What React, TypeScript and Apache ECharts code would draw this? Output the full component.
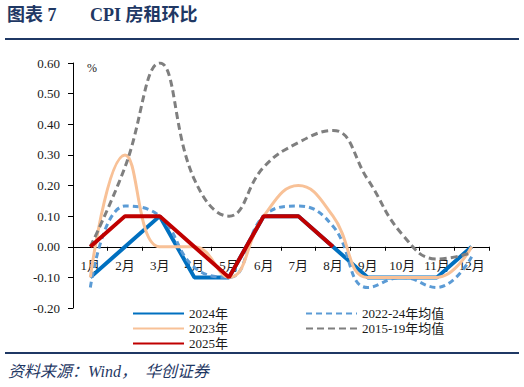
import React, { useEffect, useRef } from "react";
import * as echarts from "echarts";

const months = ["1月", "2月", "3月", "4月", "5月", "6月", "7月", "8月", "9月", "10月", "11月", "12月"];
const y2024 = [-0.1, 0.0, 0.1, -0.1, -0.1, 0.1, 0.1, 0.0, -0.1, -0.1, -0.1, 0.0];
const avg2224 = [-0.133, 0.133, 0.1, -0.067, -0.1, 0.1, 0.133, 0.067, -0.133, -0.1, -0.133, -0.033];
const y2023 = [-0.1, 0.3, 0.0, 0.0, -0.1, 0.1, 0.2, 0.1, -0.1, -0.1, -0.1, 0.0];
const avg1519 = [0.0, 0.26, 0.6, 0.22, 0.1, 0.26, 0.34, 0.38, 0.22, 0.04, -0.04, -0.02];
const y2025 = [0.0, 0.1, 0.1, 0.0, -0.1, 0.1, 0.1, 0.0];

const serif = '"Liberation Serif", "Times New Roman", "Noto Sans CJK SC", serif';
const navy = "#1F3864";

const yMin = -0.2;
const yMax = 0.6;
const gridTop = 63;
const gridBottom = 79;
const gridHeight = 387 - gridTop - gridBottom;

export default function App() {
  const ref = useRef<HTMLDivElement>(null);
  useEffect(() => {
    const chart = echarts.init(ref.current!, null, { renderer: "svg" });
    const textStyle = { fontFamily: serif, fontSize: 13, color: "#1a1a1a" };
    const zeroOffset = -(gridHeight * (0 - yMin)) / (yMax - yMin);
    const legendCommon = {
      top: 307,
      orient: "vertical",
      itemWidth: 51,
      itemHeight: 8,
      itemGap: 2,
      padding: 0,
      itemStyle: { opacity: 0 },
      textStyle: { ...textStyle, lineHeight: 12 },
    };
    chart.setOption({
      animation: false,
      backgroundColor: "#ffffff",
      grid: { left: 73, right: 35, top: gridTop, bottom: gridBottom },
      xAxis: {
        type: "category",
        data: months,
        boundaryGap: true,
        position: "bottom",
        offset: zeroOffset,
        axisLine: { onZero: false, lineStyle: { color: "#000", width: 1 } },
        axisTick: { show: true, length: 4, lineStyle: { color: "#000" } },
        axisLabel: { ...textStyle, margin: 12, interval: 0 },
        splitLine: { show: false },
      },
      yAxis: {
        type: "value",
        min: yMin,
        max: yMax,
        interval: 0.1,
        axisLine: { show: true, lineStyle: { color: "#000", width: 1 } },
        axisTick: { show: true, length: 5, lineStyle: { color: "#000" } },
        axisLabel: { ...textStyle, margin: 13, formatter: (v: number) => v.toFixed(2) },
        splitLine: { show: false },
      },
      legend: [
        { ...legendCommon, left: 132, data: ["2024年", "2023年", "2025年"] },
        { ...legendCommon, left: 305, data: ["2022-24年均值", "2015-19年均值"] },
      ],
      series: [
        {
          name: "2024年",
          type: "line",
          data: y2024,
          symbol: "none",
          color: "#0070C0",
          lineStyle: { color: "#0070C0", width: 4 },
        },
        {
          name: "2022-24年均值",
          type: "line",
          data: avg2224,
          symbol: "none",
          smooth: 0.45,
          color: "#5B9BD5",
          lineStyle: { color: "#5B9BD5", width: 3, type: [6, 4] },
        },
        {
          name: "2023年",
          type: "line",
          data: y2023,
          symbol: "none",
          smooth: 0.45,
          color: "#F8C197",
          lineStyle: { color: "#F8C197", width: 3 },
        },
        {
          name: "2015-19年均值",
          type: "line",
          data: avg1519,
          symbol: "none",
          smooth: 0.45,
          color: "#7F7F7F",
          lineStyle: { color: "#7F7F7F", width: 3, type: [7, 4] },
        },
        {
          name: "2025年",
          type: "line",
          data: y2025,
          symbol: "none",
          color: "#C00000",
          lineStyle: { color: "#C00000", width: 4 },
        },
      ],
      graphic: [
        {
          type: "text",
          left: 7,
          top: 6,
          style: { text: "图表 7", fontFamily: serif, fontSize: 18, fontWeight: "bold", fill: navy },
        },
        {
          type: "text",
          left: 90,
          top: 6,
          style: { text: "CPI 房租环比", fontFamily: serif, fontSize: 18, fontWeight: "bold", fill: navy },
        },
        {
          type: "rect",
          shape: { x: 5, y: 38, width: 514, height: 2 },
          style: { fill: navy },
        },
        {
          type: "rect",
          shape: { x: 5, y: 352, width: 514, height: 2 },
          style: { fill: navy },
        },
        {
          type: "text",
          left: 8,
          top: 363,
          style: {
            text: "资料来源：Wind，  华创证券",
            fontFamily: serif,
            fontSize: 16,
            fontStyle: "italic",
            fill: navy,
          },
        },
        {
          type: "text",
          left: 87,
          top: 62,
          style: { text: "%", fontFamily: serif, fontSize: 12, fill: "#1a1a1a" },
        },
      ],
    });
    return () => chart.dispose();
  }, []);
  return (
    <div
      ref={ref}
      style={{ position: "fixed", left: 0, top: 0, width: 524, height: 387 }}
    />
  );
}
